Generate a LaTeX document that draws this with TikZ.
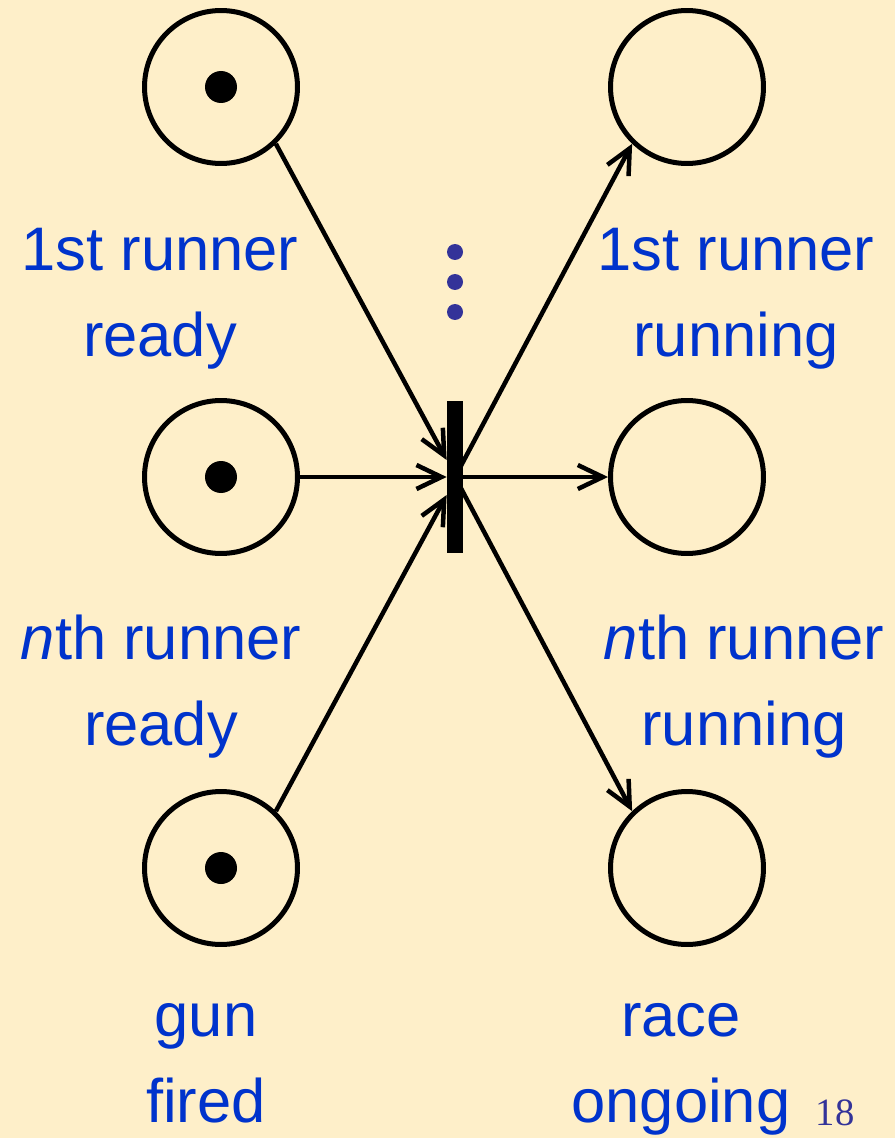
\documentclass[tikz,border=0pt]{standalone}
\usepackage{fontspec}
\setmainfont{Liberation Sans}
\newfontfamily\pagenofont{Liberation Serif}
\usetikzlibrary{arrows.meta}
\definecolor{Paper}{HTML}{FEEFC9}
\definecolor{Label}{HTML}{0033CC}
\definecolor{Slate}{HTML}{333399}
\tikzset{
 place/.style={circle,draw,line width=0.1cm,minimum size=3.06cm,inner sep=0pt},
 trans/.style={fill,minimum width=0.32cm,minimum height=3.04cm,inner sep=0pt},
 lbl/.style={text=Label,align=center,anchor=base,inner sep=0pt,font=\fontsize{35}{48.4}\selectfont},
 arc/.style={-{Straight Barb[length=0.5cm,width=0.48cm]},line width=0.09cm}
}
\begin{document}
\begin{tikzpicture}[x=0.02cm,y=-0.02cm]
\useasboundingbox (0,0) rectangle (895,1138);
\fill[Paper] (0,0) rectangle (895,1138);
% places: inputs on the left, outputs on the right
\node[place] (p1) at (221,87) {};
\node[place] (p2) at (221,477) {};
\node[place] (p3) at (221,868) {};
\node[place] (q1) at (687,87) {};
\node[place] (q2) at (687,477) {};
\node[place] (q3) at (687,868) {};
\foreach \p in {p1,p2,p3} \fill (\p) circle[radius=0.32cm];
% the start transition
\node[trans] (t) at (455,477) {};
\foreach \y in {252,282,312} \fill[Slate] (455,\y) circle[radius=0.16cm];
% arcs
\draw[arc] (p1.-46) -- ([yshift=0.34cm]t.west);
\draw[arc] (p2.east) -- (t.west);
\draw[arc] (p3.46) -- ([yshift=-0.36cm]t.west);
\draw[arc] (t.center) -- (q1.-134);
\draw[arc] (t.east) -- (q2.west);
\draw[arc] (t.center) -- (q3.134);
% labels (anchored on the last line)
\node[lbl] (l1) at (160,356) {1st runner\\ready};
\node[lbl] (l2) at (161,745) {\textit{n}th runner\\ready};
\node[lbl] (l3) at (206,1122) {gun\\fired};
\node[lbl] (r1) at (736,356) {1st runner\\running};
\node[lbl] (r2) at (744,745) {\textit{n}th runner\\running};
\node[lbl] (r3) at (681,1122) {race\\ongoing};
\node[text=Slate,anchor=base,inner sep=0pt,font=\pagenofont\fontsize{22}{26}\selectfont] (pg) at (835,1125) {18};
\end{tikzpicture}
\end{document}
